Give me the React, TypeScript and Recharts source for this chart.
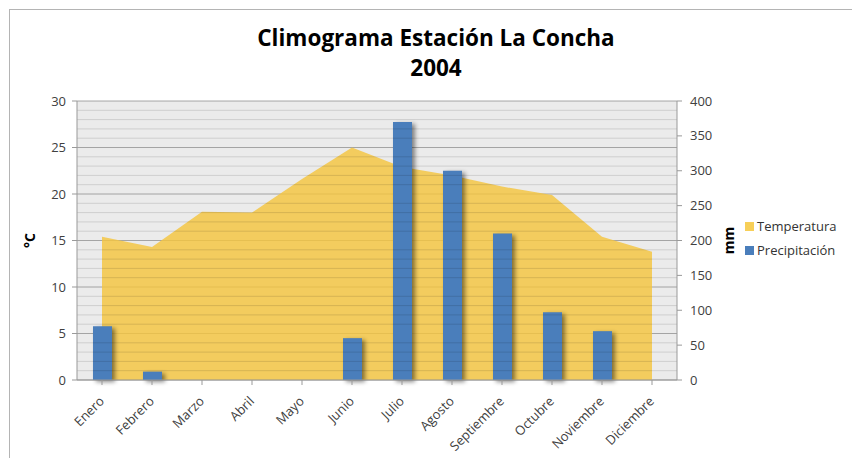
import {
  ComposedChart,
  Area,
  Bar,
  XAxis,
  YAxis,
  CartesianGrid,
  ReferenceLine,
} from "recharts";

const months = [
  "Enero",
  "Febrero",
  "Marzo",
  "Abril",
  "Mayo",
  "Junio",
  "Julio",
  "Agosto",
  "Septiembre",
  "Octubre",
  "Noviembre",
  "Diciembre",
];
const temperatura = [15.4, 14.3, 18.1, 18.0, 21.6, 25.0, 22.9, 22.0, 20.8, 19.9, 15.4, 13.8];
const precipitacion = [77, 12, 0, 0, 0, 60, 370, 300, 210, 97, 70, 0];

const tempTicks = [0, 5, 10, 15, 20, 25, 30];
const mmTicks = [0, 50, 100, 150, 200, 250, 300, 350, 400];
// minor gridlines every 1 °C (majors come from the grid)
const minorLines = [
  1, 2, 3, 4, 6, 7, 8, 9, 11, 12, 13, 14, 16, 17, 18, 19, 21, 22, 23, 24, 26,
  27, 28, 29,
];

const YELLOW = "#F4C53E";
const BLUE = "#4A7EBB";
const FONT = "'Open Sans', sans-serif";

const data = months.map((m, i) => ({
  mes: m,
  temperatura: temperatura[i],
  precipitacion: precipitacion[i],
}));

const MonthTick = ({ x, y, payload }: any) => (
  <text
    x={0}
    y={0}
    textAnchor="end"
    fontSize={13}
    fontFamily={FONT}
    fill="#404040"
    transform={`translate(${x + 3},${y + 15}) rotate(-45)`}
  >
    {payload.value}
  </text>
);

const AxisTitle = ({ viewBox, value, dx }: any) => {
  const cx = viewBox.x + dx;
  const cy = viewBox.y + viewBox.height / 2;
  return (
    <text
      x={cx}
      y={cy}
      textAnchor="middle"
      fontSize={14}
      fontWeight="bold"
      fontFamily={FONT}
      fill="#000"
      transform={`rotate(-90, ${cx}, ${cy})`}
    >
      {value}
    </text>
  );
};

const LegendBox = () => (
  <div
    style={{
      position: "absolute",
      left: 745,
      top: 214,
      fontFamily: FONT,
      fontSize: 13,
      color: "#333",
      lineHeight: "24px",
    }}
  >
    <div style={{ display: "flex", alignItems: "center", whiteSpace: "nowrap" }}>
      <span style={{ width: 9, height: 9, background: "#F7CF58", marginRight: 3 }} />
      Temperatura
    </div>
    <div style={{ display: "flex", alignItems: "center", whiteSpace: "nowrap" }}>
      <span style={{ width: 9, height: 9, background: BLUE, marginRight: 3 }} />
      Precipitación
    </div>
  </div>
);

export default function App() {
  return (
    <div
      style={{
        position: "absolute",
        left: 0,
        top: 0,
        width: 852,
        height: 458,
        overflow: "hidden",
        background: "#fff",
      }}
    >
      <div
        style={{
          position: "absolute",
          left: 9,
          top: 9,
          width: 900,
          height: 500,
          border: "1px solid #b4b4b4",
        }}
      />
      <div
        style={{
          position: "absolute",
          left: 0,
          width: 872,
          top: 23,
          textAlign: "center",
          fontFamily: FONT,
          fontWeight: "bold",
          fontSize: 22.5,
          lineHeight: "30px",
          color: "#000",
        }}
      >
        Climograma Estación La Concha
        <br />
        2004
      </div>
      <ComposedChart
        width={852}
        height={458}
        data={data}
        margin={{ top: 101, right: 135, bottom: 8, left: 37 }}
        style={{ position: "absolute", left: 0, top: 0 }}
      >
        <CartesianGrid
          yAxisId="temp"
          vertical={false}
          fill="#EBEBEB"
          stroke="#8C8C8C"
          strokeOpacity={0.75}
        />
        <Area
          yAxisId="temp"
          type="linear"
          dataKey="temperatura"
          name="Temperatura"
          fill={YELLOW}
          fillOpacity={0.82}
          stroke="none"
          isAnimationActive={false}
        />
        {minorLines.map((v) => (
          <ReferenceLine
            key={v}
            yAxisId="temp"
            y={v}
            stroke="#000"
            strokeOpacity={0.12}
          />
        ))}
        <Bar
          yAxisId="mm"
          dataKey="precipitacion"
          name="Precipitación"
          fill={BLUE}
          barSize={19}
          style={{ filter: "drop-shadow(3px 2px 2px rgba(0,0,0,0.45))" }}
          isAnimationActive={false}
        />
        <XAxis
          dataKey="mes"
          height={70}
          interval={0}
          tick={<MonthTick />}
          tickSize={5}
          axisLine={{ stroke: "#999" }}
          tickLine={{ stroke: "#999" }}
        />
        <YAxis
          yAxisId="temp"
          orientation="left"
          width={40}
          domain={[0, 30]}
          ticks={tempTicks}
          tickSize={5}
          tickMargin={6}
          axisLine={{ stroke: "#999" }}
          tickLine={{ stroke: "#999" }}
          tick={{ fontSize: 13, fontFamily: FONT, fill: "#404040" }}
          label={<AxisTitle value="°C" dx={-2} />}
        />
        <YAxis
          yAxisId="mm"
          orientation="right"
          width={40}
          domain={[0, 400]}
          ticks={mmTicks}
          tickSize={5}
          tickMargin={8}
          axisLine={{ stroke: "#999" }}
          tickLine={{ stroke: "#999" }}
          tick={{ fontSize: 13, fontFamily: FONT, fill: "#404040", textAnchor: "start" }}
          label={<AxisTitle value="mm" dx={57} />}
        />
      </ComposedChart>
      <LegendBox />
    </div>
  );
}
